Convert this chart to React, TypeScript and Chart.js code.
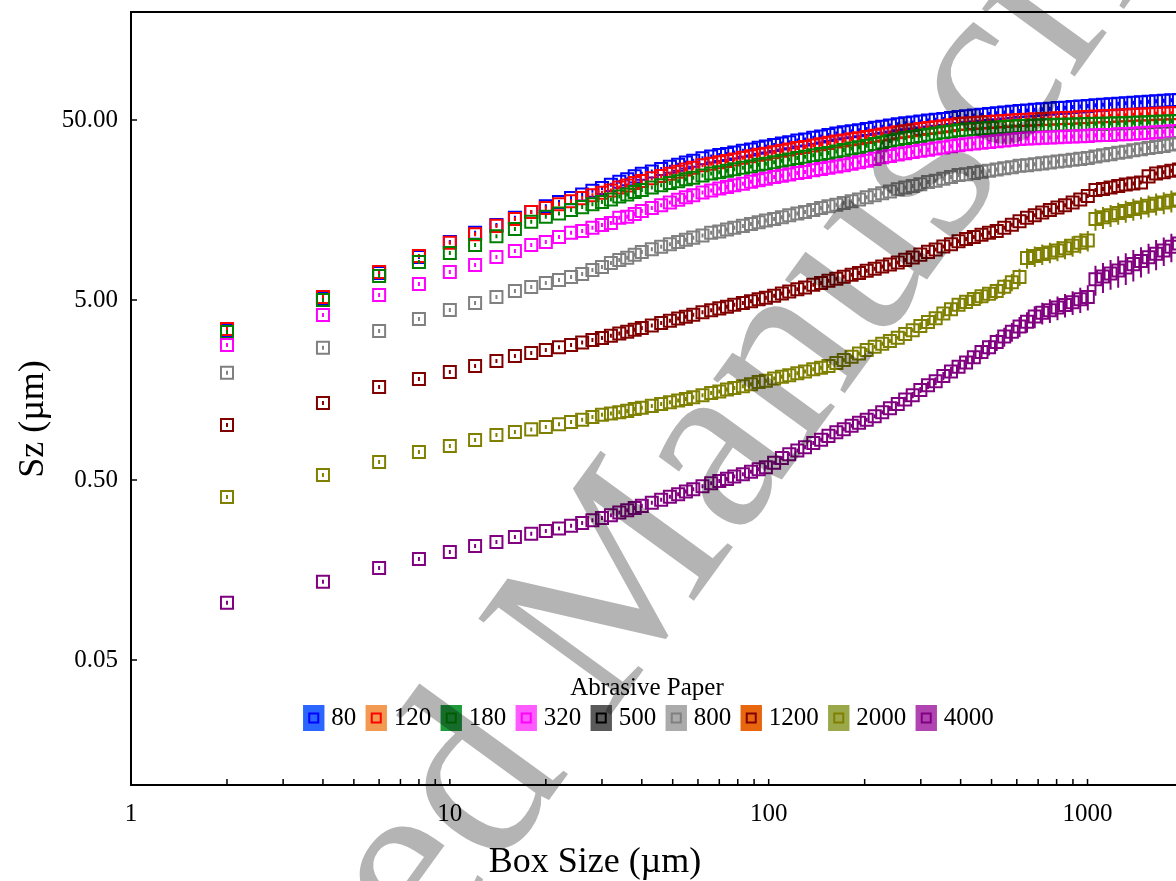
import React, { useEffect, useRef } from "react";
import { Chart, registerables } from "chart.js";

Chart.register(...registerables);

// ---------------- data ----------------
const BOX_SIZE = [
  2, 4, 6, 8, 10, 12, 14, 16, 18, 20, 22, 24, 26, 28, 30, 32, 34, 36, 38, 40,
  43, 46, 49, 52, 55, 58, 62, 66, 70, 74, 78, 83, 88, 93, 98, 104, 110, 116, 123, 130,
  138, 146, 154, 163, 172, 182, 192, 203, 215, 227, 240, 254, 268, 283, 299, 316, 334, 353, 373, 394,
  416, 440, 465, 491, 519, 548, 579, 612, 646, 683, 721, 762, 805, 850, 898, 949, 1002, 1059, 1118, 1181,
  1248, 1318, 1392, 1471, 1554, 1641, 1734, 1832, 1935,
];

const SZ_80 = [
  3.36, 5.13, 7.06, 8.67, 10.5, 11.8, 13.05, 14.3, 15.4, 16.6,
  17.5, 18.4, 19.3, 20.2, 20.95, 21.8, 22.7, 23.4, 24.3, 25.1,
  25.9, 26.7, 27.5, 28.2, 29.0, 29.7, 30.6, 31.3, 31.9, 32.4,
  33.0, 33.7, 34.3, 35.0, 35.6, 36.3, 37.0, 37.6, 38.4, 39.0,
  39.8, 40.5, 41.3, 42.1, 42.7, 43.3, 43.9, 44.6, 45.3, 45.9,
  46.6, 47.3, 47.9, 48.4, 49.0, 49.6, 50.1, 50.7, 51.3, 51.9,
  52.4, 52.9, 53.4, 53.9, 54.5, 55.0, 55.5, 56.1, 56.5, 56.9,
  57.3, 57.7, 58.2, 58.5, 59.0, 59.4, 59.8, 60.3, 60.7, 61.1,
  61.5, 61.9, 62.4, 62.7, 63.1, 63.6, 63.9, 64.3, 64.6,
];

const SZ_120 = [
  3.45, 5.2, 7.15, 8.78, 10.4, 11.6, 12.9, 14.1, 15.4, 16.2,
  17.0, 17.7, 18.4, 19.1, 19.7, 20.3, 21.1, 21.6, 22.3, 22.9,
  23.7, 24.4, 25.1, 25.8, 26.5, 27.1, 28.0, 28.6, 29.1, 29.6,
  30.2, 30.8, 31.4, 32.0, 32.5, 33.1, 33.7, 34.3, 34.9, 35.4,
  36.1, 36.7, 37.3, 38.0, 38.5, 39.1, 39.6, 40.2, 40.9, 41.5,
  42.1, 42.7, 43.3, 43.8, 44.5, 45.1, 45.6, 46.2, 46.8, 47.5,
  47.8, 48.1, 48.4, 48.7, 49.1, 49.4, 49.7, 50.0, 50.2, 50.4,
  50.6, 50.8, 51.1, 51.3, 51.5, 51.8, 52.0, 52.2, 52.4, 52.6,
  52.9, 53.1, 53.4, 53.6, 53.8, 54.1, 54.3, 54.5, 54.6,
];

const SZ_180 = [
  3.32, 5.0, 6.8, 8.13, 9.12, 10.1, 11.3, 12.4, 13.6, 14.5,
  15.1, 15.8, 16.4, 17.0, 17.5, 18.1, 18.8, 19.3, 19.9, 20.4,
  21.1, 21.7, 22.3, 22.8, 23.4, 23.9, 24.6, 25.2, 25.6, 26.1,
  26.6, 27.1, 27.6, 28.2, 28.6, 29.1, 29.7, 30.2, 30.7, 31.2,
  31.8, 32.3, 32.8, 33.4, 34.0, 34.7, 35.3, 36.0, 36.8, 37.5,
  38.2, 39.0, 39.7, 40.2, 40.8, 41.4, 42.0, 42.7, 43.2, 43.9,
  44.2, 44.5, 44.9, 45.1, 45.4, 45.7, 46.0, 46.3, 46.4, 46.5,
  46.7, 46.8, 47.0, 47.1, 47.2, 47.4, 47.5, 47.6, 47.7, 47.8,
  47.9, 48.0, 48.2, 48.4, 48.6, 48.9, 49.0, 49.2, 49.4,
];

const SZ_320 = [
  2.81, 4.13, 5.33, 6.14, 7.15, 7.82, 8.67, 9.36, 10.1, 10.5,
  11.2, 11.8, 12.1, 12.6, 13.05, 13.4, 14.3, 14.5, 15.0, 15.6,
  16.2, 16.8, 17.4, 18.0, 18.6, 19.1, 19.8, 20.3, 20.8, 21.2,
  21.7, 22.1, 22.7, 23.1, 23.6, 24.1, 24.5, 24.9, 25.4, 25.7,
  26.3, 26.7, 27.1, 27.6, 28.0, 28.6, 29.1, 29.7, 30.4, 31.0,
  31.5, 32.2, 32.7, 33.2, 33.7, 34.2, 34.7, 35.2, 35.7, 36.2,
  36.6, 37.0, 37.4, 37.7, 38.1, 38.5, 38.8, 39.2, 39.4, 39.6,
  39.8, 40.0, 40.1, 40.3, 40.5, 40.6, 40.8, 41.1, 41.2, 41.3,
  41.6, 41.7, 41.9, 42.2, 42.5, 42.7, 43.0, 43.3, 43.4,
];

// 500: listed in the legend, no marks visible in the plot
const SZ_500: number[] = [];

const SZ_800 = [
  1.97, 2.71, 3.36, 3.92, 4.4, 4.81, 5.2, 5.61, 5.9, 6.22,
  6.46, 6.71, 6.97, 7.34, 7.63, 8.03, 8.34, 8.59, 8.92, 9.24,
  9.58, 9.88, 10.2, 10.5, 10.8, 11.1, 11.4, 11.8, 12.0, 12.3,
  12.6, 12.9, 13.2, 13.5, 13.8, 14.1, 14.4, 14.8, 15.1, 15.4,
  15.8, 16.2, 16.6, 16.9, 17.3, 17.7, 18.1, 18.6, 19.1, 19.6,
  20.0, 20.6, 21.1, 21.5, 22.0, 22.6, 23.0, 23.6, 24.1, 24.7,
  25.0, 25.4, 25.8, 26.1, 26.5, 27.0, 27.3, 27.8, 28.0, 28.4,
  28.7, 29.0, 29.4, 29.7, 30.1, 30.4, 30.7, 31.3, 31.8, 32.3,
  32.9, 33.3, 33.9, 34.4, 34.9, 35.4, 35.9, 36.5, 37.0,
];

const SZ_1200 = [
  1.01, 1.34, 1.64, 1.82, 1.99, 2.15, 2.29, 2.44, 2.54, 2.64,
  2.73, 2.81, 2.9, 3.0, 3.07, 3.16, 3.26, 3.33, 3.42, 3.49,
  3.61, 3.72, 3.83, 3.94, 4.04, 4.14, 4.27, 4.39, 4.49, 4.59,
  4.7, 4.81, 4.92, 5.04, 5.15, 5.28, 5.43, 5.58, 5.74, 5.87,
  6.07, 6.21, 6.39, 6.56, 6.72, 6.9, 7.07, 7.26, 7.46, 7.67,
  7.86, 8.08, 8.35, 8.61, 8.93, 9.25, 9.55, 9.9, 10.2, 10.6,
  10.9, 11.2, 11.5, 11.8, 12.1, 12.6, 13.1, 13.7, 14.3, 14.8,
  15.3, 15.8, 16.3, 16.8, 17.4, 18.1, 18.9, 20.4, 20.7, 21.1,
  21.5, 21.9, 22.2, 22.5, 24.3, 25.2, 25.6, 26.1, 26.5,
];

const SZ_2000 = [
  0.402, 0.533, 0.63, 0.716, 0.772, 0.834, 0.889, 0.924, 0.955, 0.985,
  1.02, 1.05, 1.08, 1.12, 1.15, 1.17, 1.19, 1.21, 1.24, 1.26,
  1.29, 1.32, 1.35, 1.38, 1.41, 1.44, 1.48, 1.52, 1.55, 1.59,
  1.62, 1.66, 1.7, 1.75, 1.78, 1.83, 1.87, 1.91, 1.96, 2.0,
  2.06, 2.1, 2.15, 2.23, 2.32, 2.42, 2.52, 2.64, 2.75, 2.86,
  2.96, 3.08, 3.24, 3.39, 3.58, 3.77, 3.96, 4.21, 4.44, 4.71,
  4.88, 5.06, 5.24, 5.41, 5.6, 5.92, 6.28, 6.71, 8.56, 8.77,
  8.99, 9.19, 9.42, 9.69, 10.0, 10.4, 10.7, 14.1, 14.4, 14.8,
  15.2, 15.6, 16.0, 16.3, 16.7, 17.1, 17.4, 17.8, 18.1,
];

const SZ_4000 = [
  0.104, 0.136, 0.162, 0.182, 0.199, 0.215, 0.226, 0.241, 0.251, 0.26,
  0.269, 0.278, 0.288, 0.299, 0.307, 0.318, 0.33, 0.339, 0.349, 0.359,
  0.374, 0.388, 0.403, 0.417, 0.431, 0.444, 0.462, 0.479, 0.494, 0.507,
  0.522, 0.538, 0.555, 0.573, 0.588, 0.624, 0.662, 0.695, 0.729, 0.761,
  0.803, 0.837, 0.879, 0.92, 0.956, 0.999, 1.04, 1.08, 1.13, 1.19,
  1.25, 1.32, 1.4, 1.48, 1.58, 1.68, 1.77, 1.89, 2.0, 2.13,
  2.25, 2.4, 2.57, 2.73, 2.92, 3.13, 3.33, 3.56, 3.78, 4.05,
  4.24, 4.38, 4.54, 4.69, 4.86, 5.04, 5.2, 6.51, 6.75, 7.02,
  7.3, 7.57, 7.91, 8.24, 8.64, 9.04, 9.42, 9.88, 10.3,
];

const N = null;
const ERR_2000 = [
  N, N, N, N, N, N, N, N, N, N,
  N, N, N, N, N, N, N, N, N, N,
  N, N, N, N, N, N, N, N, N, N,
  N, N, N, N, N, N, N, N, N, N,
  N, N, N, N, N, N, N, N, N, N,
  N, N, N, N, 0.18, 0.19, 0.24, 0.25, 0.31, 0.33,
  0.39, 0.4, 0.47, 0.49, 0.56, 0.59, 0.69, 0.74, 1.11, 1.14,
  1.17, 1.19, 1.22, 1.26, 1.3, 1.35, 1.39, 1.97, 2.02, 2.07,
  2.13, 2.18, 2.24, 2.28, 2.34, 2.39, 2.44, 2.49, 2.53,
];

const ERR_4000 = [
  N, N, N, N, N, N, N, N, N, N,
  N, N, N, N, N, N, N, N, N, N,
  N, N, N, N, N, N, N, N, N, N,
  N, N, N, N, N, N, N, N, N, N,
  N, N, N, N, N, N, N, N, N, N,
  0.04, 0.04, 0.05, 0.06, 0.06, 0.08, 0.09, 0.1, 0.12, 0.14,
  0.16, 0.19, 0.23, 0.27, 0.32, 0.38, 0.4, 0.46, 0.49, 0.57,
  0.59, 0.66, 0.68, 0.7, 0.73, 0.81, 0.83, 1.24, 1.28, 1.33,
  1.46, 1.51, 1.58, 1.57, 1.64, 1.72, 1.7, 1.78, 1.85,
];

const SERIES_LABELS = ["80", "120", "180", "320", "500", "800", "1200", "2000", "4000"];
const SERIES_VALUES = [SZ_80, SZ_120, SZ_180, SZ_320, SZ_500, SZ_800, SZ_1200, SZ_2000, SZ_4000];
const SERIES_ERRORS = [N, N, N, N, N, N, N, ERR_2000, ERR_4000];
const SERIES_COLORS = ["#0000ff", "#ff0000", "#008000", "#ff00ff", "#000000", "#808080", "#800000", "#808000", "#800080"];
const LEGEND_FILLS = ["#2a66ff", "#f39a52", "#1e9a3c", "#ff5cff", "#5a5a5a", "#ababab", "#e8660e", "#9aa84a", "#b044b0"];

const X_TICKS = [1, 10, 100, 1000];
const Y_TICKS = [0.05, 0.5, 5, 50];
const X_MIN = 1;
const X_MAX = 4300;
const Y_MIN = 0.0101;
const Y_MAX = 199;

const SERIF = '"Liberation Serif", "Times New Roman", serif';

// ---------------- layout constants ----------------
const CANVAS_W = 1300;
const CANVAS_H = 900;

const decorPlugin = {
  id: "decor",
  afterDatasetDraw(chart: any, args: any) {
    const ds = chart.data.datasets[args.index];
    const meta = args.meta;
    const ys = chart.scales.y;
    const a = chart.chartArea;
    const ctx = chart.ctx;
    ctx.save();
    ctx.beginPath();
    ctx.rect(a.left, a.top, a.right - a.left, a.bottom - a.top);
    ctx.clip();
    ctx.strokeStyle = ds.borderColor;
    ctx.lineWidth = 2;
    meta.data.forEach((pt: any, i: number) => {
      const err = ds.errors ? ds.errors[i] : null;
      const v = ds.data[i].y;
      let top = pt.y - 2;
      let bot = pt.y + 2;
      if (err != null) {
        top = Math.min(top, ys.getPixelForValue(v + err));
        bot = Math.max(bot, ys.getPixelForValue(Math.max(v - err, Y_MIN)));
      }
      ctx.beginPath();
      ctx.moveTo(pt.x, top);
      ctx.lineTo(pt.x, bot);
      ctx.stroke();
    });
    ctx.restore();
  },
  afterDraw(chart: any) {
    const ctx = chart.ctx;
    const a = chart.chartArea;
    const xs = chart.scales.x;
    const ys = chart.scales.y;
    ctx.save();
    // top frame line
    ctx.strokeStyle = "#000";
    ctx.lineWidth = 2;
    ctx.beginPath();
    ctx.moveTo(a.left - 1, a.top);
    ctx.lineTo(a.right, a.top);
    ctx.stroke();
    // inward tick marks
    ctx.lineWidth = 1.5;
    ctx.beginPath();
    X_TICKS.forEach((d) => {
      for (let k = 1; k <= 9; k++) {
        const v = k * d;
        if (v < X_MIN || v > X_MAX) continue;
        const px = xs.getPixelForValue(v);
        ctx.moveTo(px, a.bottom);
        ctx.lineTo(px, a.bottom - 6);
      }
    });
    Y_TICKS.forEach((v) => {
      const py = ys.getPixelForValue(v);
      ctx.moveTo(a.left, py);
      ctx.lineTo(a.left + 6, py);
    });
    ctx.stroke();

    // axis titles
    ctx.fillStyle = "#000";
    ctx.font = `36px ${SERIF}`;
    ctx.textAlign = "center";
    ctx.textBaseline = "alphabetic";
    ctx.fillText("Box Size (\u00b5m)", 595, 872);
    ctx.save();
    ctx.translate(43, 419);
    ctx.rotate(-Math.PI / 2);
    ctx.fillText("Sz (\u00b5m)", 0, 0);
    ctx.restore();

    // legend
    ctx.font = `25px ${SERIF}`;
    ctx.textAlign = "center";
    ctx.fillText("Abrasive Paper", 647, 695);
    const SW = 21, SH = 26, G1 = 7, G2 = 9.5;
    const ds = chart.data.datasets;
    const widths = ds.map((d: any) => ctx.measureText(d.label).width);
    let total = 0;
    widths.forEach((w: number) => (total += SW + G1 + w));
    total += G2 * (ds.length - 1);
    let x = 648.5 - total / 2;
    const top = 705;
    ctx.textAlign = "left";
    ds.forEach((d: any, i: number) => {
      ctx.fillStyle = d.legendFill;
      ctx.fillRect(x, top, SW, SH);
      ctx.strokeStyle = d.legendFill;
      ctx.lineWidth = 1;
      ctx.strokeRect(x + 0.5, top + 0.5, SW - 1, SH - 1);
      ctx.strokeStyle = d.borderColor;
      ctx.lineWidth = 2;
      ctx.strokeRect(x + SW / 2 - 4.5, top + SH / 2 - 4.5, 9, 9);
      ctx.fillStyle = "#000";
      ctx.fillText(d.label, x + SW + G1, 725);
      x += SW + G1 + widths[i] + G2;
    });

    // watermark
    ctx.globalCompositeOperation = "multiply";
    ctx.fillStyle = "rgb(180,180,180)";
    ctx.font = `250px ${SERIF}`;
    ctx.textAlign = "left";
    ctx.textBaseline = "alphabetic";
    ctx.translate(15, 1535);
    ctx.rotate((-54 * Math.PI) / 180);
    ctx.fillText("Accepted Manuscript", 0, 0);
    ctx.restore();
  },
};

export default function App() {
  const ref = useRef<HTMLCanvasElement>(null);
  useEffect(() => {
    const datasets = SERIES_LABELS.map((label, i) => ({
      label,
      data: SERIES_VALUES[i].map((v, j) => ({ x: BOX_SIZE[j], y: v })),
      borderColor: SERIES_COLORS[i],
      backgroundColor: "rgba(0,0,0,0)",
      pointStyle: "rect",
      pointRadius: 8.5,
      pointHoverRadius: 8.5,
      pointBorderWidth: 2,
      showLine: false,
      order: SERIES_LABELS.length - i,
      errors: SERIES_ERRORS[i],
      legendFill: LEGEND_FILLS[i],
    }));
    const chart = new Chart(ref.current as HTMLCanvasElement, {
      type: "scatter",
      data: { datasets } as any,
      options: {
        animation: false,
        responsive: false,
        devicePixelRatio: 1,
        layout: { padding: { left: 0, top: 12, right: 10, bottom: 0 } },
        plugins: { legend: { display: false }, tooltip: { enabled: false } },
        events: [],
        scales: {
          x: {
            type: "logarithmic",
            position: "bottom",
            min: X_MIN,
            max: X_MAX,
            grid: { display: false, drawTicks: false },
            border: { display: true, color: "#000", width: 2 },
            afterFit: (s: any) => {
              s.height = CANVAS_H - 785;
              s.paddingLeft = 0;
              s.paddingRight = 0;
            },
            afterBuildTicks: (s: any) => {
              s.ticks = X_TICKS.map((v) => ({ value: v }));
            },
            ticks: {
              autoSkip: false,
              maxRotation: 0,
              padding: 14,
              color: "#000",
              font: { family: SERIF, size: 25 },
              callback: (v: any) => String(v),
            },
          },
          y: {
            type: "logarithmic",
            position: "left",
            min: Y_MIN,
            max: Y_MAX,
            grid: { display: false, drawTicks: false },
            border: { display: true, color: "#000", width: 2 },
            afterFit: (s: any) => {
              s.width = 131;
              s.paddingTop = 0;
              s.paddingBottom = 0;
            },
            afterBuildTicks: (s: any) => {
              s.ticks = Y_TICKS.map((v) => ({ value: v }));
            },
            ticks: {
              autoSkip: false,
              padding: 13,
              color: "#000",
              font: { family: SERIF, size: 25 },
              callback: (v: any) => Number(v).toFixed(2),
            },
          },
        },
      } as any,
      plugins: [decorPlugin],
    });
    return () => chart.destroy();
  }, []);
  return (
    <div
      style={{
        position: "fixed",
        left: 0,
        top: 0,
        width: 1176,
        height: 881,
        overflow: "hidden",
        background: "#fff",
      }}
    >
      <canvas
        ref={ref}
        width={CANVAS_W}
        height={CANVAS_H}
        style={{ display: "block", width: CANVAS_W, height: CANVAS_H }}
      />
    </div>
  );
}
